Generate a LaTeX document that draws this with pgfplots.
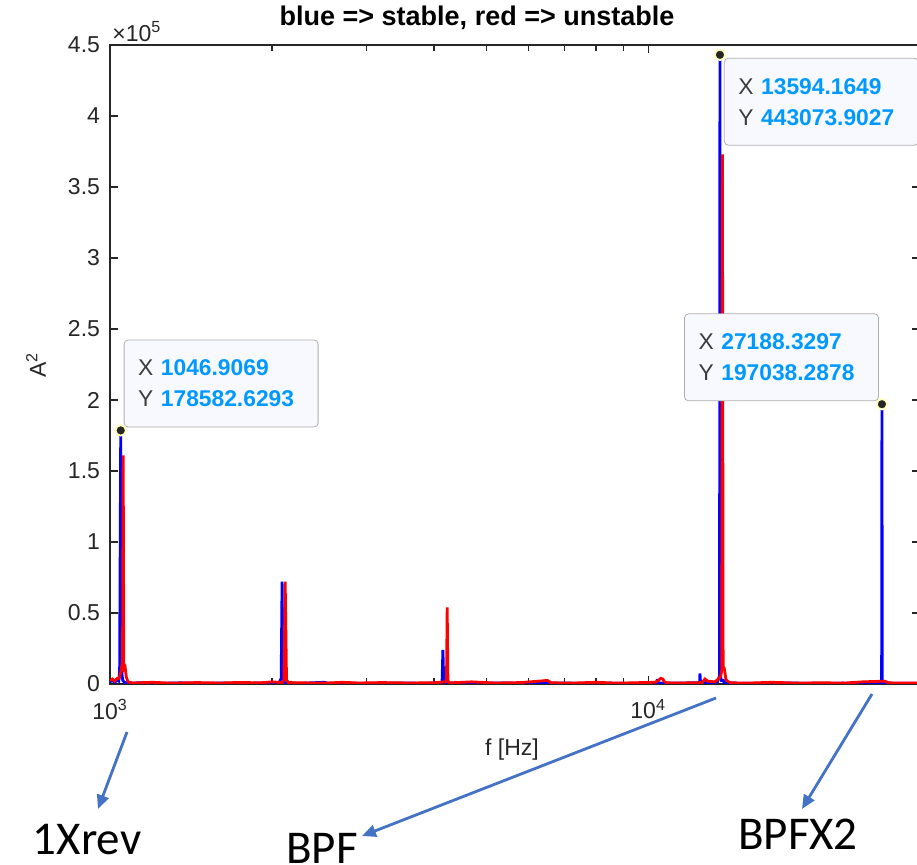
\documentclass[border=0pt]{standalone}
\usepackage{fontspec}
\setmainfont{Liberation Sans}
\newfontfamily\calibri{Carlito}
\usepackage{pgfplots}
\pgfplotsset{compat=1.18}
\usetikzlibrary{arrows.meta}

\definecolor{axgray}{RGB}{38,38,38}
\definecolor{tipblue}{RGB}{0,153,255}
\definecolor{tipfill}{RGB}{248,248,255}
\definecolor{tipedge}{RGB}{175,175,175}
\definecolor{tipring}{RGB}{255,255,190}
\definecolor{arrowblue}{RGB}{68,114,196}

\tikzset{tipbox/.style={draw=tipedge, fill=tipfill, rounded corners=2pt,
    align=left, text width=83pt, inner xsep=7pt, minimum height=43.5pt,
    font=\fontsize{11.4}{15.5}\selectfont}}

% data tip text: X / Y in grey, values in bold blue
\newcommand{\tip}[2]{\textcolor{axgray!90}{X} \textcolor{tipblue}{\bfseries #1}\\\textcolor{axgray!90}{Y} \textcolor{tipblue}{\bfseries #2}}

\begin{document}
\begin{tikzpicture}
\useasboundingbox (0,0) rectangle (458.5pt,-432.5pt);
\begin{axis}[
    at={(55pt,-342pt)}, anchor=south west,
    scale only axis, width=405pt, height=319.5pt,
    xmode=log, xmin=1000, xmax=32000,
    ymin=0, ymax=450000,
    xtick={1000,10000},
    xticklabels={10\textsuperscript{3},10\textsuperscript{4}},
    ytick={0,50000,100000,150000,200000,250000,300000,350000,400000,450000},
    yticklabels={0,0.5,1,1.5,2,2.5,3,3.5,4,4.5},
    scaled y ticks=false,
    axis line style={axgray, line width=0.6pt},
    tick style={axgray, line width=0.6pt},
    major tick length=4pt, minor tick length=3pt,
    tick label style={font=\fontsize{11.5}{13}\selectfont, text=axgray},
    yticklabel style={xshift=-1.5pt},
    xticklabel style={yshift=-4pt},
]
\addplot[blue, line width=1.4pt] coordinates {
    (1000,1500) (1010,2500) (1020,1200) (1030,2600) (1038,2000) (1042,9000)
    (1046.9,178582.6) (1051,9000) (1056,2500) (1065,1000) (1090,600) (1150,900)
    (1250,500) (1350,800) (1500,500) (1650,700) (1800,500) (1950,800)
    (2060,700) (2080,4000) (2088,72000) (2097,4000) (2110,900) (2250,500)
    (2500,1200) (2550,500) (2800,600) (3100,500) (3500,700) (3900,500)
    (4140,1200) (4155,24000) (4170,1500) (4250,700) (4600,500) (5200,700)
    (6000,500) (6800,700) (7600,500) (8500,600) (9500,500) (10200,700)
    (10390,1200) (10400,3500) (10420,800) (11000,600) (12000,800) (12460,1000)
    (12480,7500) (12510,1000) (13200,900) (13450,1500) (13520,4000) (13570,6000)
    (13594.2,443073.9) (13620,6000) (13680,2500) (13800,2500) (13830,1000)
    (14500,600) (16000,500) (18000,700) (20000,500) (23000,600) (26000,500)
    (27150,800) (27188.3,197038.3) (27230,800) (29000,500) (32000,600)
};
\addplot[red, line width=1.4pt] coordinates {
    (1000,2500) (1010,3500) (1020,2000) (1030,3800) (1040,4000) (1048,9000)
    (1052,13000) (1055,12000) (1058,161000) (1061,14000) (1066,13000)
    (1072,5000) (1080,1500) (1100,700) (1200,1200) (1300,600) (1450,1000)
    (1600,700) (1750,1100) (1900,800) (2000,1500) (2090,1000) (2105,3000)
    (2116,72000) (2128,3000) (2145,1000) (2300,800) (2500,600) (2700,1200)
    (2900,700) (3200,1000) (3600,700) (4000,900) (4200,1500) (4220,4000)
    (4232,54000) (4245,2500) (4270,800) (4700,1500) (5200,700) (5800,1000)
    (6500,2500) (6600,800) (7300,700) (8000,1200) (8800,600) (9500,900)
    (10300,1200) (10450,2500) (10550,4000) (10650,3500) (10700,2000)
    (10800,800) (11500,700) (12600,1000) (12750,3500) (12900,2000)
    (13300,1500) (13550,4000) (13650,6000) (13700,10000) (13740,373000)
    (13780,12000) (13850,11000) (13950,3000) (14100,1500) (14300,800)
    (15500,700) (17000,1200) (19000,600) (21000,900) (23000,600)
    (25000,1500) (27500,2000) (28000,800) (30000,600) (32000,700)
};
% data tip markers
\addplot[only marks, mark=*, mark size=2.6pt,
    mark options={fill=axgray, draw=tipring, line width=0.9pt}] coordinates {
    (1046.9069,178582.6293) (13594.1649,443073.9027) (27188.3297,197038.2878)
};
\node[tipbox, anchor=south west, xshift=1.5pt, yshift=1.5pt]
    at (axis cs:1046.9069,178582.6293) {\tip{1046.9069}{178582.6293}};
\node[tipbox, anchor=north west, xshift=2pt, yshift=-1.5pt]
    at (axis cs:13594.1649,443073.9027) {\tip{13594.1649}{443073.9027}};
\node[tipbox, anchor=south east, xshift=-1.5pt, yshift=1.5pt]
    at (axis cs:27188.3297,197038.2878) {\tip{27188.3297}{197038.2878}};
\end{axis}

% labels and annotations in image pixel units
\begin{scope}[x=0.5pt, y=-0.5pt]
\node[font=\bfseries\fontsize{13.5}{15}\selectfont, text=black] at (477,18)
    {blue => stable, red => unstable};
\node[anchor=south west, font=\fontsize{11.5}{13}\selectfont, text=axgray, inner sep=0pt]
    at (112,42) {×10\textsuperscript{5}};
\node[font=\fontsize{11.5}{13}\selectfont, text=axgray] at (512,750) {f [Hz]};
\node[rotate=90, font=\fontsize{11.5}{13}\selectfont, text=axgray] at (36,365)
    {A\textsuperscript{2}};
\draw[arrowblue, line width=1.4pt, -{Triangle[length=7pt,width=6pt]}]
    (127,732) -- (98,809);
\draw[arrowblue, line width=1.4pt, -{Triangle[length=7pt,width=6pt]}]
    (716,698) -- (362,836);
\draw[arrowblue, line width=1.4pt, -{Triangle[length=7pt,width=6pt]}]
    (872,694) -- (802,809);
\node[font=\calibri\fontsize{23.5}{26}\selectfont, anchor=base] at (87,855) {1Xrev};
\node[font=\calibri\fontsize{23.5}{26}\selectfont, anchor=base] at (322,864) {BPF};
\node[font=\calibri\fontsize{23.5}{26}\selectfont, anchor=base] at (798,850) {BPFX2};
\end{scope}
\end{tikzpicture}
\end{document}
